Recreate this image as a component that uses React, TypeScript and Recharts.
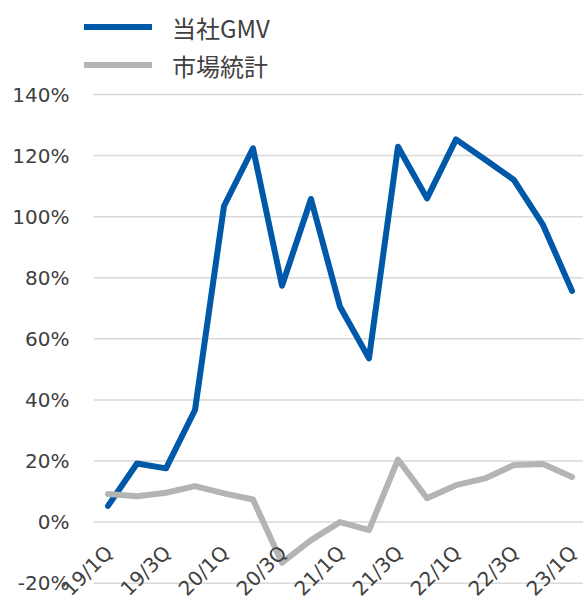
import { CartesianGrid, Line, LineChart, XAxis, YAxis } from "recharts"

const quarters = [
  "19/1Q", "19/2Q", "19/3Q", "19/4Q",
  "20/1Q", "20/2Q", "20/3Q", "20/4Q",
  "21/1Q", "21/2Q", "21/3Q", "21/4Q",
  "22/1Q", "22/2Q", "22/3Q", "22/4Q",
  "23/1Q",
]

const gmvGrowth = [5.3, 19.2, 17.6, 36.7, 103.5, 122.4, 77.4, 105.8, 70.5, 53.6, 122.9, 106, 125.3, 118.7, 112, 97.3, 75.7]
const marketGrowth = [9.2, 8.5, 9.6, 11.8, 9.4, 7.4, -13.3, -5.9, 0, -2.6, 20.5, 7.8, 12.1, 14.3, 18.7, 19, 14.8]

const yTicks = [-20, 0, 20, 40, 60, 80, 100, 120, 140]

const seriesNames = { gmv: "当社GMV", market: "市場統計" }

const data = quarters.map((q, i) => ({ quarter: q, gmv: gmvGrowth[i], market: marketGrowth[i] }))

const BLUE = "#0058A9"
const GRAY = "#B4B4B4"
const TEXT = "#404040"
const FONT = "DejaVu Sans, Noto Sans CJK JP, sans-serif"

function QuarterTick(props: any) {
  const { x, y, payload } = props
  return (
    <text
      x={0}
      y={0}
      transform={`translate(${x + 6},${y - 29}) rotate(-45)`}
      textAnchor="end"
      fill={TEXT}
      fontSize={20}
      fontFamily={FONT}
    >
      {payload.value}
    </text>
  )
}

function LegendBox() {
  const items = [
    { name: seriesNames.gmv, color: BLUE },
    { name: seriesNames.market, color: GRAY },
  ]
  return (
    <div style={{ position: "absolute", left: 84, top: 8 }}>
      {items.map((it) => (
        <div key={it.name} style={{ display: "flex", alignItems: "center", height: 38 }}>
          <div style={{ width: 68, height: 6, background: it.color, marginRight: 20 }} />
          <span style={{ fontSize: 24, color: TEXT, fontFamily: "'Noto Sans CJK JP', sans-serif" }}>{it.name}</span>
        </div>
      ))}
    </div>
  )
}

export default function App() {
  return (
    <div style={{ position: "absolute", left: 0, top: 0, width: 583, height: 600, background: "#fff" }}>
      <LineChart width={583} height={600} data={data} margin={{ top: 94.5, right: 0, bottom: 0, left: 0 }}>
        <CartesianGrid vertical={false} stroke="#D9D9D9" strokeWidth={1.5} />
        <XAxis
          dataKey="quarter"
          height={16.8}
          interval={1}
          axisLine={false}
          tickLine={false}
          tickSize={0}
          tickMargin={0}
          padding={{ left: 14.5, right: 11 }}
          tick={<QuarterTick />}
        />
        <YAxis
          width={93.5}
          domain={[-20, 140]}
          ticks={yTicks}
          allowDataOverflow
          axisLine={false}
          tickLine={false}
          tickSize={0}
          tickMargin={24}
          tickFormatter={(v) => `${v}%`}
          tick={{ fill: TEXT, fontSize: 20, fontFamily: FONT }}
        />
        <Line
          dataKey="gmv"
          name={seriesNames.gmv}
          stroke={BLUE}
          strokeWidth={6}
          strokeLinecap="round"
          strokeLinejoin="round"
          dot={false}
          isAnimationActive={false}
        />
        <Line
          dataKey="market"
          name={seriesNames.market}
          stroke={GRAY}
          strokeWidth={6}
          strokeLinecap="round"
          strokeLinejoin="round"
          dot={false}
          isAnimationActive={false}
        />
      </LineChart>
      <LegendBox />
    </div>
  )
}
